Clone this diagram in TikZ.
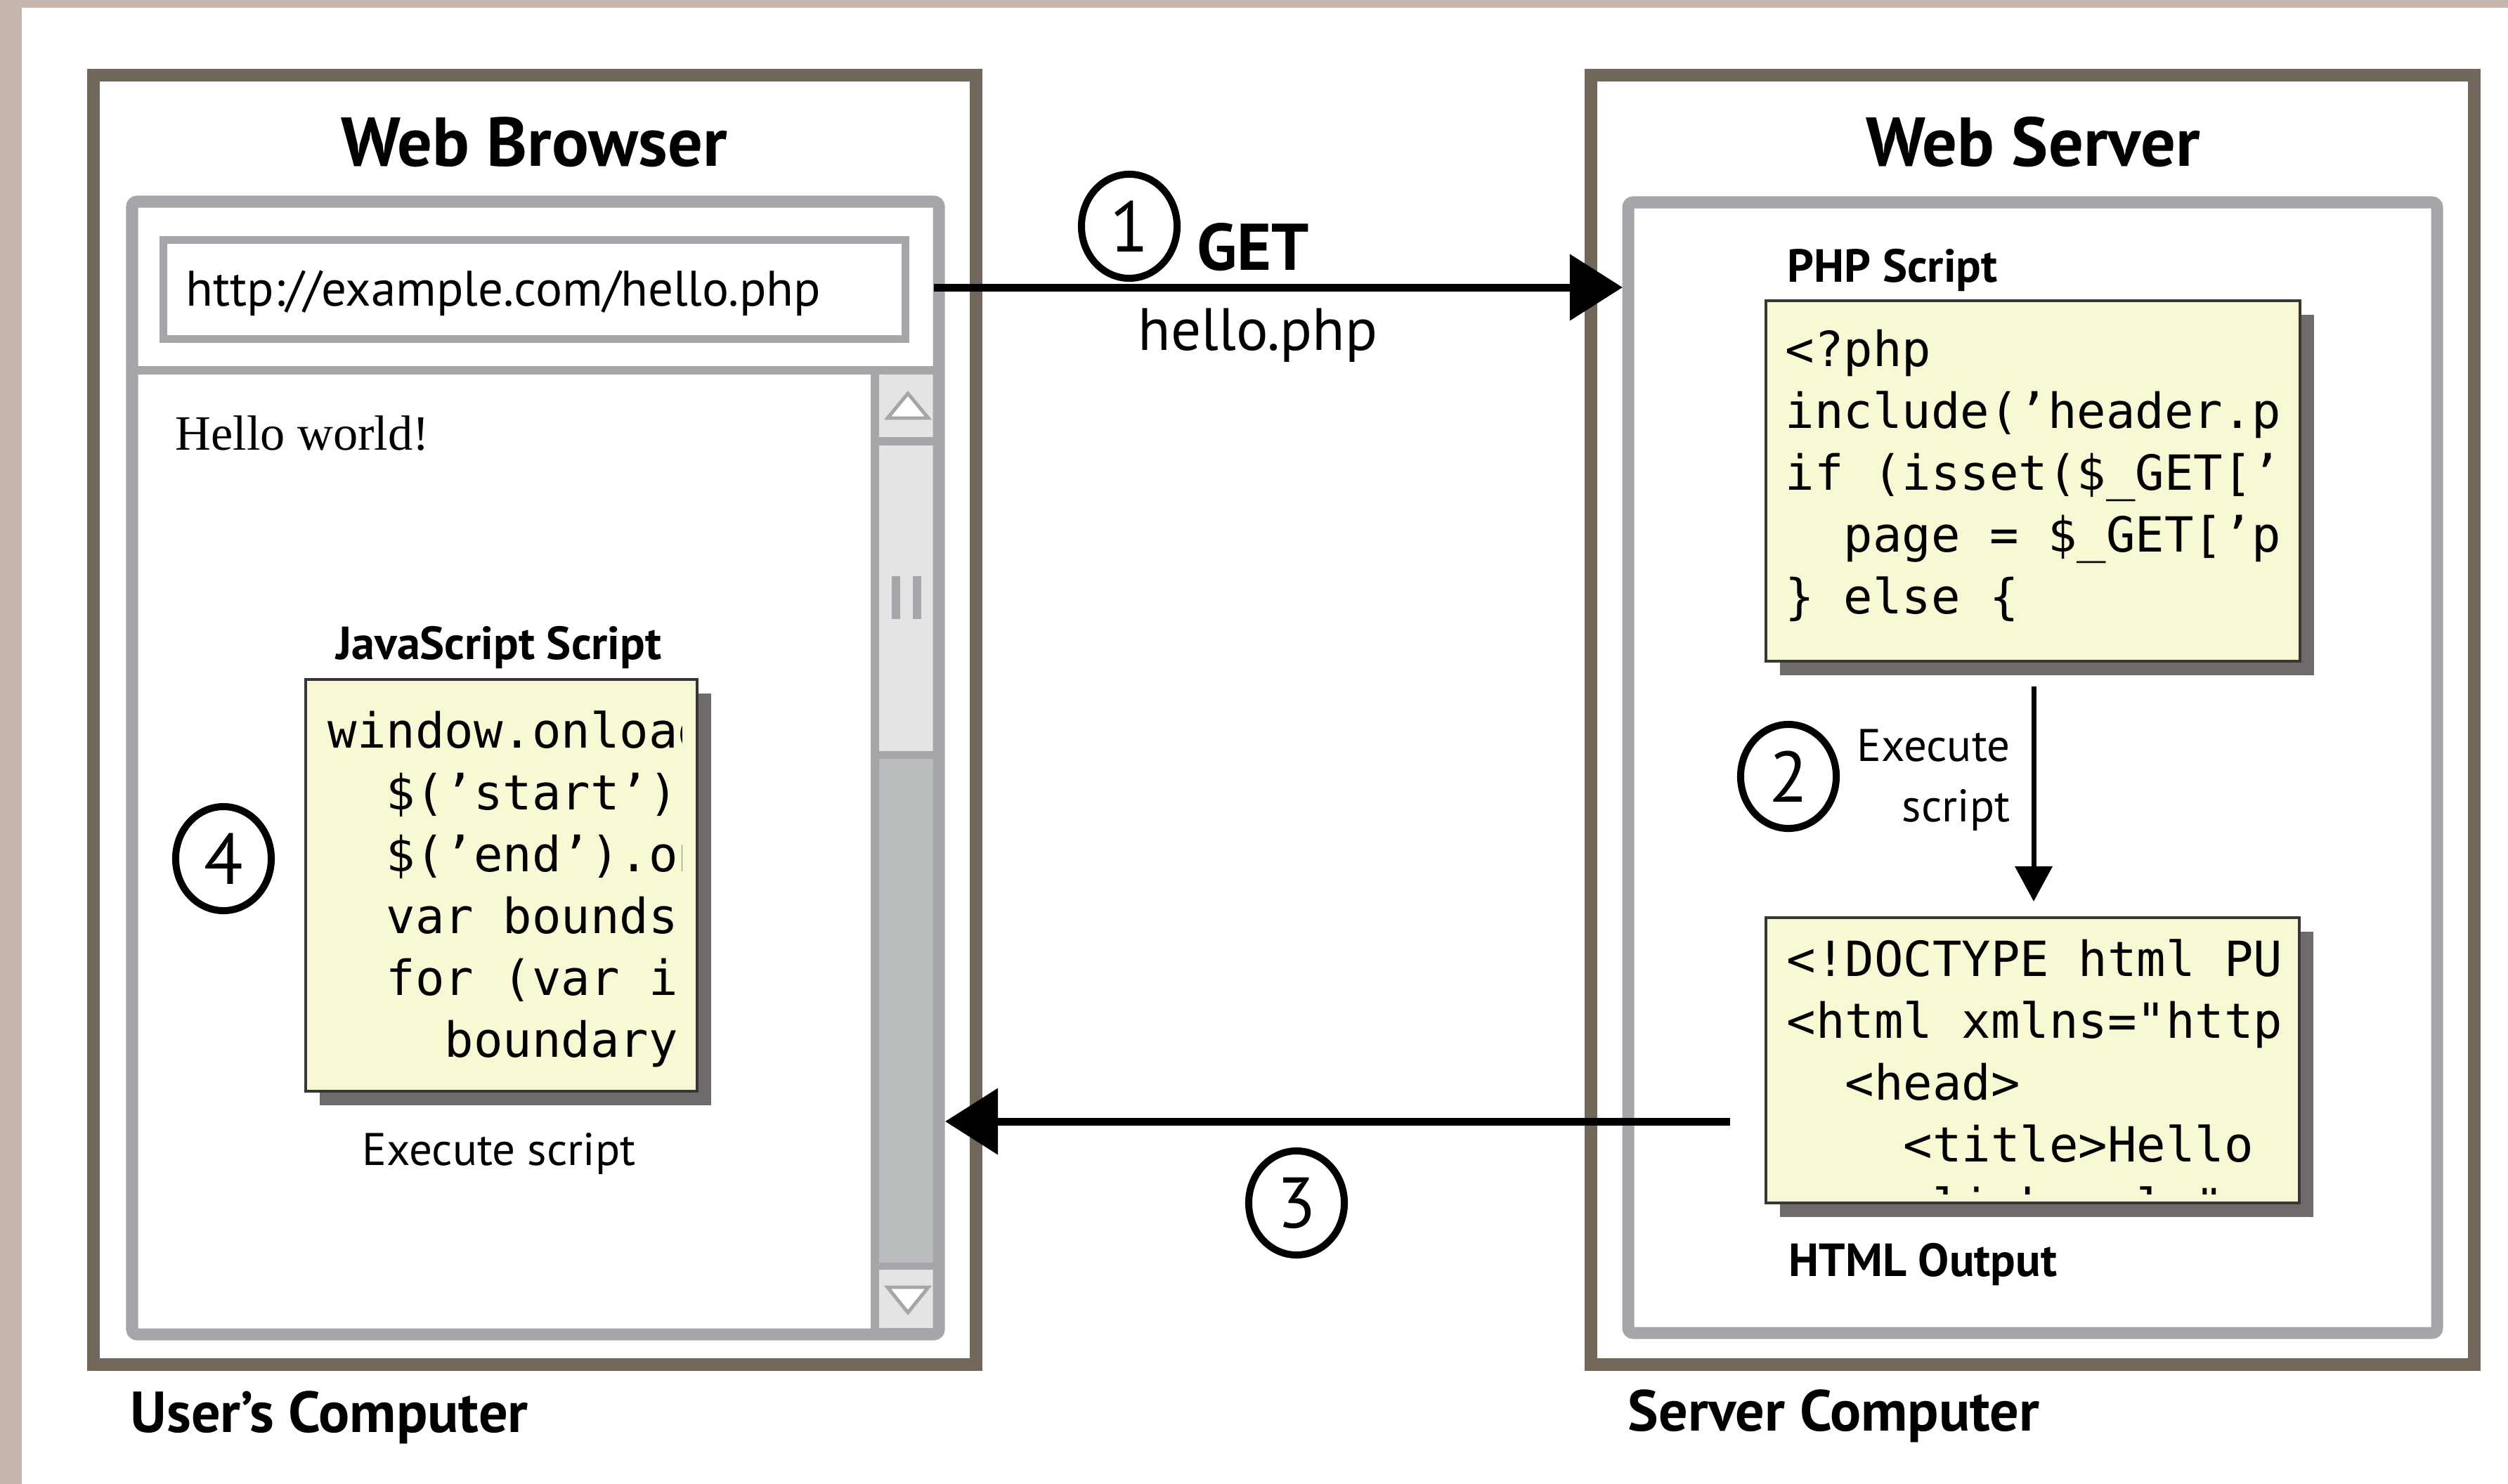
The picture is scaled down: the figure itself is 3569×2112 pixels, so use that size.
\documentclass[tikz,border=0pt]{standalone}
\usepackage{fontspec}
\setmainfont{PT Sans}
\setmonofont{DejaVu Sans Mono}
\newfontfamily\serifhw{Liberation Serif}
\usetikzlibrary{arrows.meta,shapes.geometric,shadows}
\definecolor{beige}{RGB}{200,181,173}
\definecolor{frameb}{RGB}{114,103,91}
\definecolor{frameg}{RGB}{166,166,170}
\definecolor{sblight}{RGB}{228,228,228}
\definecolor{sbdark}{RGB}{185,189,189}
\definecolor{codebg}{RGB}{248,248,212}
\definecolor{shadowc}{RGB}{111,106,107}
\definecolor{codeborder}{RGB}{55,55,55}
\tikzset{
  outerbox/.style={draw=frameb, line width=5.12pt, inner sep=0pt},
  innerframe/.style={draw=frameg, line width=4.84pt, rounded corners=2pt},
  codebox/.style={draw=codeborder, fill=codebg, line width=1.1pt, inner sep=0pt,
    drop shadow={shadow xshift=0.2cm, shadow yshift=-0.2cm, fill=shadowc, opacity=1}},
  code/.style={inner sep=0pt, anchor=base west, font=\ttfamily\fontsize{19.6pt}{25.04pt}\selectfont},
  title/.style={inner sep=0pt, anchor=base, font=\bfseries\fontsize{28pt}{30pt}\selectfont},
  lbl/.style={inner sep=0pt, font=\bfseries\fontsize{18.8pt}{20pt}\selectfont},
  exe/.style={inner sep=0pt, font=\fontsize{18.5pt}{20pt}\selectfont},
  pclbl/.style={inner sep=0pt, anchor=base west, font=\bfseries\fontsize{23.4pt}{26pt}\selectfont},
  numcirc/.style={ellipse, draw, line width=2.85pt, minimum width=1.36cm, minimum height=1.48cm, inner sep=0pt, font=\fontsize{29pt}{30pt}\selectfont},
  bigarrow/.style={line width=3.13pt, -{Triangle[length=0.75cm,width=0.92cm]}},
  smallarrow/.style={line width=2pt, -{Triangle[length=0.5cm,width=0.52cm]}},
  sbtri/.style={draw=frameg, fill=white, line width=1.4pt, line join=miter},
}
\begin{document}
\begin{tikzpicture}[x=0.01cm,y=-0.01cm]
\useasboundingbox (0,0) rectangle (3569,2112);
\fill[white] (0,0) rectangle (3569,2112);
\fill[beige] (0,0) rectangle (3569,11);
\fill[beige] (0,0) rectangle (31,2112);

% outer boxes
\node[outerbox, minimum width=12.56cm, minimum height=18.33cm] (userpc) at (761,1024.5) {};
\node[outerbox, minimum width=12.57cm, minimum height=18.33cm] (serverpc) at (2892.5,1024.5) {};

% scrollbar
\fill[frameg] (1239,527) rectangle (1337,1899);
\fill[sblight] (1251,533) rectangle (1328,622);
\fill[sblight] (1251,634) rectangle (1328,1069);
\fill[sbdark] (1251,1080) rectangle (1328,1797);
\fill[sblight] (1251,1807) rectangle (1328,1890);
\filldraw[sbtri] (1292,560) -- (1263,595) -- (1321,595) -- cycle;
\filldraw[sbtri] (1263,1832) -- (1321,1832) -- (1292,1868) -- cycle;
\fill[frameg] (1269,820) rectangle (1281,881);
\fill[frameg] (1299,820) rectangle (1311,881);

% browser frame
\draw[innerframe] (188,287) rectangle (1336,1899);
\draw[frameg, line width=3.4pt] (188,527) -- (1336,527);
\draw[frameg, line width=3.13pt] (232.5,341.5) rectangle (1288.5,482.5);
% server frame
\draw[innerframe] (2317,288) rectangle (3468,1897);

% titles
\node[title] (wbt) at (760,236) {Web Browser};
\node[title] (wst) at (2893,236) {Web Server};
\node[anchor=base west, inner sep=0pt, font=\fontsize{20.2pt}{24pt}\selectfont] (url) at (264,435) {http://example.com/hello.php};
\node[anchor=base west, inner sep=0pt, font=\serifhw\fontsize{20pt}{24pt}\selectfont] (hw) at (249,640) {Hello world!};

% code boxes
\node[codebox, minimum width=7.6cm, minimum height=5.13cm] (php) at (2893,684.5) {};
\node[codebox, minimum width=5.57cm, minimum height=5.86cm] (js) at (713.5,1260) {};
\node[codebox, minimum width=7.59cm, minimum height=4.06cm] (html) at (2892.5,1509) {};

\begin{scope}
\clip (2520,435) rectangle (3252,934);
\node[code] (phpcode) at (2540,521) {\vtop{%
\hbox{<?php}
\hbox{include(’header.p}
\hbox{if (isset(\$\_GET[’}
\hbox{\hphantom{xx}page = \$\_GET[’p}
\hbox{\} else \{}}};
\end{scope}
\begin{scope}
\clip (442,974) rectangle (970,1546);
\node[code] (jscode) at (466,1064) {\vtop{%
\hbox{window.onload}
\hbox{\hphantom{xx}\$(’start’)}
\hbox{\hphantom{xx}\$(’end’).on}
\hbox{\hphantom{xx}var bounds}
\hbox{\hphantom{xx}for (var i}
\hbox{\hphantom{xxxx}boundary}}};
\end{scope}
\begin{scope}
\clip (2520,1313) rectangle (3252,1699);
\node[code] (htmlcode) at (2542,1389) {\vtop{%
\hbox{<!DOCTYPE html PU}
\hbox{<html xmlns="http}
\hbox{\hphantom{xx}<head>}
\hbox{\hphantom{xxxx}<title>Hello}
\hbox{\hphantom{xxxx}<link rel="}}};
\end{scope}

% labels
\node[lbl, anchor=base west] (phpl) at (2543,401) {PHP Script};
\node[lbl, anchor=base] (jsl) at (710,938) {JavaScript Script};
\node[exe, anchor=base] (exe1) at (710,1658) {Execute script};
\node[exe, anchor=base east] (exe2a) at (2861,1083) {Execute};
\node[exe, anchor=base east] (exe2b) at (2861,1169) {script};
\node[lbl, anchor=base west] (htmll) at (2545,1816) {HTML Output};
\node[pclbl] (upc) at (185,2038) {User’s Computer};
\node[pclbl] (spc) at (2316,2036) {Server Computer};

% step 1
\node[anchor=base west, inner sep=0pt, font=\bfseries\fontsize{26.7pt}{28pt}\selectfont] (get) at (1703,384) {GET};
\node[anchor=base, inner sep=0pt, font=\fontsize{24.2pt}{26pt}\selectfont] (hphp) at (1790,498) {hello.php};
\node[numcirc] (n1) at (1607,322) {1};
\coordinate (a1s) at (1329,409);
\coordinate (a1e) at (2309,409);
\draw[bigarrow] (a1s) -- (a1e);

% step 2
\node[numcirc] (n2) at (2545,1105) {2};
\coordinate (a2s) at (2894,977);
\coordinate (a2e) at (2894,1283);
\draw[smallarrow] (a2s) -- (a2e);

% step 3
\node[numcirc] (n3) at (1845,1712) {3};
\coordinate (a3s) at (2462,1596);
\coordinate (a3e) at (1345,1596);
\draw[bigarrow] (a3s) -- (a3e);

% step 4
\node[numcirc] (n4) at (318,1222) {4};
\end{tikzpicture}
\end{document}
